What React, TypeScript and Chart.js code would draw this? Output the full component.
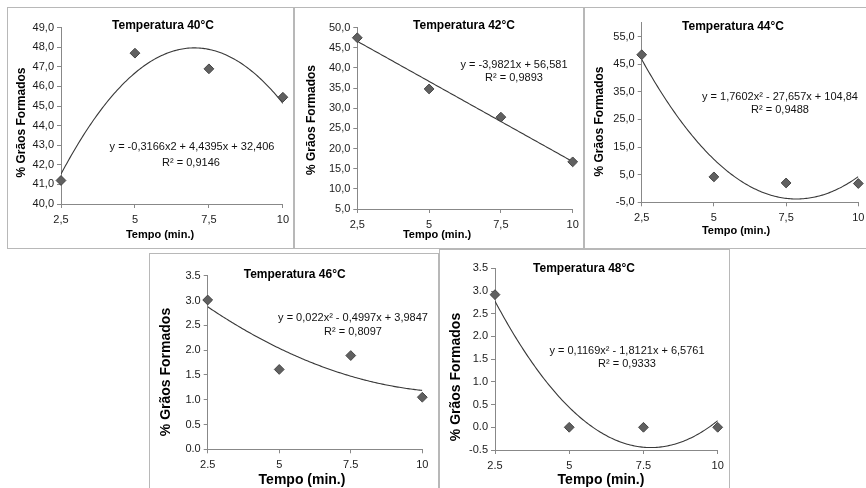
import React, { useEffect, useRef } from "react";
import { Chart, registerables } from "chart.js";

Chart.register(...registerables);

// ---------- DATA ----------
const xValues = [2.5, 5, 7.5, 10];
const xLabelsComma = ["2,5", "5", "7,5", "10"];
const xLabelsDot = ["2.5", "5", "7.5", "10"];

const y40 = [41.2, 47.7, 46.9, 45.45];
const y42 = [47.5, 34.8, 27.8, 16.7];
const y44 = [48.4, 4.2, 2.0, 1.8];
const y46 = [3.01, 1.61, 1.89, 1.05];
const y48 = [2.92, 0, 0, 0];

// trendline coefficients [a, b, c] for y = a*x^2 + b*x + c
const coef40 = [-0.3166, 4.4395, 32.406];
const coef42 = [0, -3.9821, 56.581];
const coef44 = [1.7602, -27.657, 104.84];
const coef46 = [0.022, -0.4997, 3.9847];
const coef48 = [0.1169, -1.8121, 6.5761];

const yTicks40 = [40, 41, 42, 43, 44, 45, 46, 47, 48, 49];
const yLabels40 = ["40,0", "41,0", "42,0", "43,0", "44,0", "45,0", "46,0", "47,0", "48,0", "49,0"];
const yTicks42 = [5, 10, 15, 20, 25, 30, 35, 40, 45, 50];
const yLabels42 = ["5,0", "10,0", "15,0", "20,0", "25,0", "30,0", "35,0", "40,0", "45,0", "50,0"];
const yTicks44 = [-5, 5, 15, 25, 35, 45, 55];
const yLabels44 = ["-5,0", "5,0", "15,0", "25,0", "35,0", "45,0", "55,0"];
const yTicks46 = [0, 0.5, 1, 1.5, 2, 2.5, 3, 3.5];
const yLabels46 = ["0.0", "0.5", "1.0", "1.5", "2.0", "2.5", "3.0", "3.5"];
const yTicks48 = [-0.5, 0, 0.5, 1, 1.5, 2, 2.5, 3, 3.5];
const yLabels48 = ["-0.5", "0.0", "0.5", "1.0", "1.5", "2.0", "2.5", "3.0", "3.5"];

const titles = ["Temperatura 40°C", "Temperatura 42°C", "Temperatura 44°C", "Temperatura 46°C", "Temperatura 48°C"];
const eqLines = [
  ["y = -0,3166x2 + 4,4395x + 32,406", "R² = 0,9146"],
  ["y = -3,9821x + 56,581", "R² = 0,9893"],
  ["y = 1,7602x² - 27,657x + 104,84", "R² = 0,9488"],
  ["y = 0,022x² - 0,4997x + 3,9847", "R² = 0,8097"],
  ["y = 0,1169x² - 1,8121x + 6,5761", "R² = 0,9333"],
];
const xTitle = "Tempo (min.)";
const yTitle = "% Grãos Formados";

// ---------- LAYOUT ----------
type Panel = {
  box: number[]; // left, top, width, height (page)
  area: number[]; // chart area left, top, right, bottom (canvas)
  yMin: number;
  yMax: number;
  yTicks: number[];
  yLabels: string[];
  xLabels: string[];
  ys: number[];
  coef: number[];
  title: string;
  eq: string[];
  titlePos: number[];
  eqPos: number[][];
  xTitlePos: number[];
  yTitlePos: number[];
  xTitleSize: number;
  yTitleSize: number;
};

const panels: Panel[] = [
  {
    box: [7, 7, 287, 242], area: [54, 20.7, 277, 197],
    yMin: 40, yMax: 49, yTicks: yTicks40, yLabels: yLabels40, xLabels: xLabelsComma,
    ys: y40, coef: coef40, title: titles[0], eq: eqLines[0],
    titlePos: [156, 19], eqPos: [[185, 139.7], [184, 155.7]], xTitlePos: [153, 228], yTitlePos: [14.7, 115.5],
    xTitleSize: 11, yTitleSize: 12,
  },
  {
    box: [294, 7, 290, 242], area: [63.3, 20.7, 278.7, 202],
    yMin: 5, yMax: 50, yTicks: yTicks42, yLabels: yLabels42, xLabels: xLabelsComma,
    ys: y42, coef: coef42, title: titles[1], eq: eqLines[1],
    titlePos: [170, 19], eqPos: [[220, 58], [220, 71.3]], xTitlePos: [143, 228], yTitlePos: [17.7, 113],
    xTitleSize: 11, yTitleSize: 12,
  },
  {
    box: [584, 7, 290, 242], area: [57.7, 15.7, 274.3, 195.3],
    yMin: -5, yMax: 60, yTicks: yTicks44, yLabels: yLabels44, xLabels: xLabelsComma,
    ys: y44, coef: coef44, title: titles[2], eq: eqLines[2],
    titlePos: [149, 19.7], eqPos: [[196, 89.7], [196, 103]], xTitlePos: [152, 224], yTitlePos: [16, 114.5],
    xTitleSize: 11, yTitleSize: 12,
  },
  {
    box: [149, 253, 290, 240], area: [58.7, 22.7, 273.3, 196.3],
    yMin: 0, yMax: 3.5, yTicks: yTicks46, yLabels: yLabels46, xLabels: xLabelsDot,
    ys: y46, coef: coef46, title: titles[3], eq: eqLines[3],
    titlePos: [145.7, 22], eqPos: [[204, 65.3], [204, 78.7]], xTitlePos: [153, 227], yTitlePos: [17, 119],
    xTitleSize: 14, yTitleSize: 14,
  },
  {
    box: [439, 249, 291, 245], area: [56, 19.3, 278.7, 201],
    yMin: -0.5, yMax: 3.5, yTicks: yTicks48, yLabels: yLabels48, xLabels: xLabelsDot,
    ys: y48, coef: coef48, title: titles[4], eq: eqLines[4],
    titlePos: [145, 20], eqPos: [[188, 101.7], [188, 115]], xTitlePos: [162, 231], yTitlePos: [17, 128],
    xTitleSize: 14, yTitleSize: 14,
  },
];

const FONT = "'Liberation Sans', Arial, sans-serif";
const Y_SCALE_W = 40;
const X_SCALE_H = 30;

function trendPoints(coef: number[]) {
  const pts: { x: number; y: number }[] = [];
  for (let i = 0; i <= 150; i++) {
    const x = 2.5 + (7.5 * i) / 150;
    pts.push({ x, y: coef[0] * x * x + coef[1] * x + coef[2] });
  }
  return pts;
}

function PanelChart({ p }: { p: Panel }) {
  const ref = useRef<HTMLCanvasElement>(null);
  const [L, T, W, H] = p.box;
  useEffect(() => {
    const [al, at, ar, ab] = p.area;
    const textPlugin = {
      id: "texts",
      afterDraw(chart: any) {
        const ctx = chart.ctx as CanvasRenderingContext2D;
        ctx.save();
        ctx.textAlign = "center";
        ctx.textBaseline = "middle";
        ctx.fillStyle = "#000";
        ctx.font = `bold 12px ${FONT}`;
        ctx.fillText(p.title, p.titlePos[0], p.titlePos[1]);
        ctx.font = `11px ${FONT}`;
        ctx.fillStyle = "#111";
        p.eq.forEach((line, i) => ctx.fillText(line, p.eqPos[i][0], p.eqPos[i][1]));
        ctx.fillStyle = "#000";
        ctx.font = `bold ${p.xTitleSize}px ${FONT}`;
        ctx.fillText(xTitle, p.xTitlePos[0], p.xTitlePos[1]);
        ctx.translate(p.yTitlePos[0], p.yTitlePos[1]);
        ctx.rotate(-Math.PI / 2);
        ctx.font = `bold ${p.yTitleSize}px ${FONT}`;
        ctx.fillText(yTitle, 0, 0);
        ctx.restore();
      },
    };
    const chart = new Chart(ref.current!, {
      type: "scatter",
      data: {
        datasets: [
          {
            type: "line",
            data: trendPoints(p.coef),
            borderColor: "#383838",
            borderWidth: 1.1,
            pointRadius: 0,
            fill: false,
            tension: 0,
            order: 2,
          } as any,
          {
            type: "scatter",
            data: xValues.map((x, i) => ({ x, y: p.ys[i] })),
            pointStyle: "rectRot",
            pointRadius: 4.9,
            pointBackgroundColor: "#606060",
            pointBorderColor: "#454545",
            pointBorderWidth: 1,
            clip: false,
            order: 1,
          } as any,
        ],
      },
      plugins: [textPlugin],
      options: {
        animation: false,
        responsive: false,
        events: [],
        layout: {
          padding: {
            left: al - Y_SCALE_W,
            top: at,
            right: W - ar,
            bottom: H - ab - X_SCALE_H,
          },
        },
        plugins: { legend: { display: false }, tooltip: { enabled: false }, title: { display: false } },
        scales: {
          x: {
            type: "linear",
            min: 2.5,
            max: 10,
            afterBuildTicks: (s: any) => {
              s.ticks = xValues.map((v) => ({ value: v }));
            },
            afterFit: (s: any) => {
              s.height = X_SCALE_H;
            },
            ticks: {
              callback: (_v: any, i: number) => p.xLabels[i],
              font: { family: FONT, size: 11 },
              color: "#1a1a1a",
              padding: 5,
              maxRotation: 0,
            },
            grid: { display: true, drawOnChartArea: false, drawTicks: true, tickLength: 4, color: "#888" },
            border: { display: true, color: "#888", width: 1 },
          },
          y: {
            type: "linear",
            min: p.yMin,
            max: p.yMax,
            afterBuildTicks: (s: any) => {
              s.ticks = p.yTicks.map((v) => ({ value: v }));
            },
            afterFit: (s: any) => {
              s.width = Y_SCALE_W;
            },
            ticks: {
              callback: (_v: any, i: number) => p.yLabels[i],
              font: { family: FONT, size: 11 },
              color: "#1a1a1a",
              padding: 3,
            },
            grid: { display: true, drawOnChartArea: false, drawTicks: true, tickLength: 4, color: "#888" },
            border: { display: true, color: "#888", width: 1 },
          },
        },
      } as any,
    });
    return () => chart.destroy();
  }, []);
  return (
    <>
      <div
        style={{
          position: "absolute",
          left: L,
          top: T,
          width: W,
          height: H,
          border: "1px solid #b8b8b8",
          boxSizing: "border-box",
          background: "#fff",
        }}
      />
      <canvas ref={ref} width={W} height={H} style={{ position: "absolute", left: L, top: T, width: W, height: H }} />
    </>
  );
}

export default function App() {
  return (
    <div
      style={{
        position: "absolute",
        left: 0,
        top: 0,
        width: 866,
        height: 488,
        overflow: "hidden",
        background: "#fff",
      }}
    >
      {panels.map((p, i) => (
        <PanelChart key={i} p={p} />
      ))}
    </div>
  );
}
